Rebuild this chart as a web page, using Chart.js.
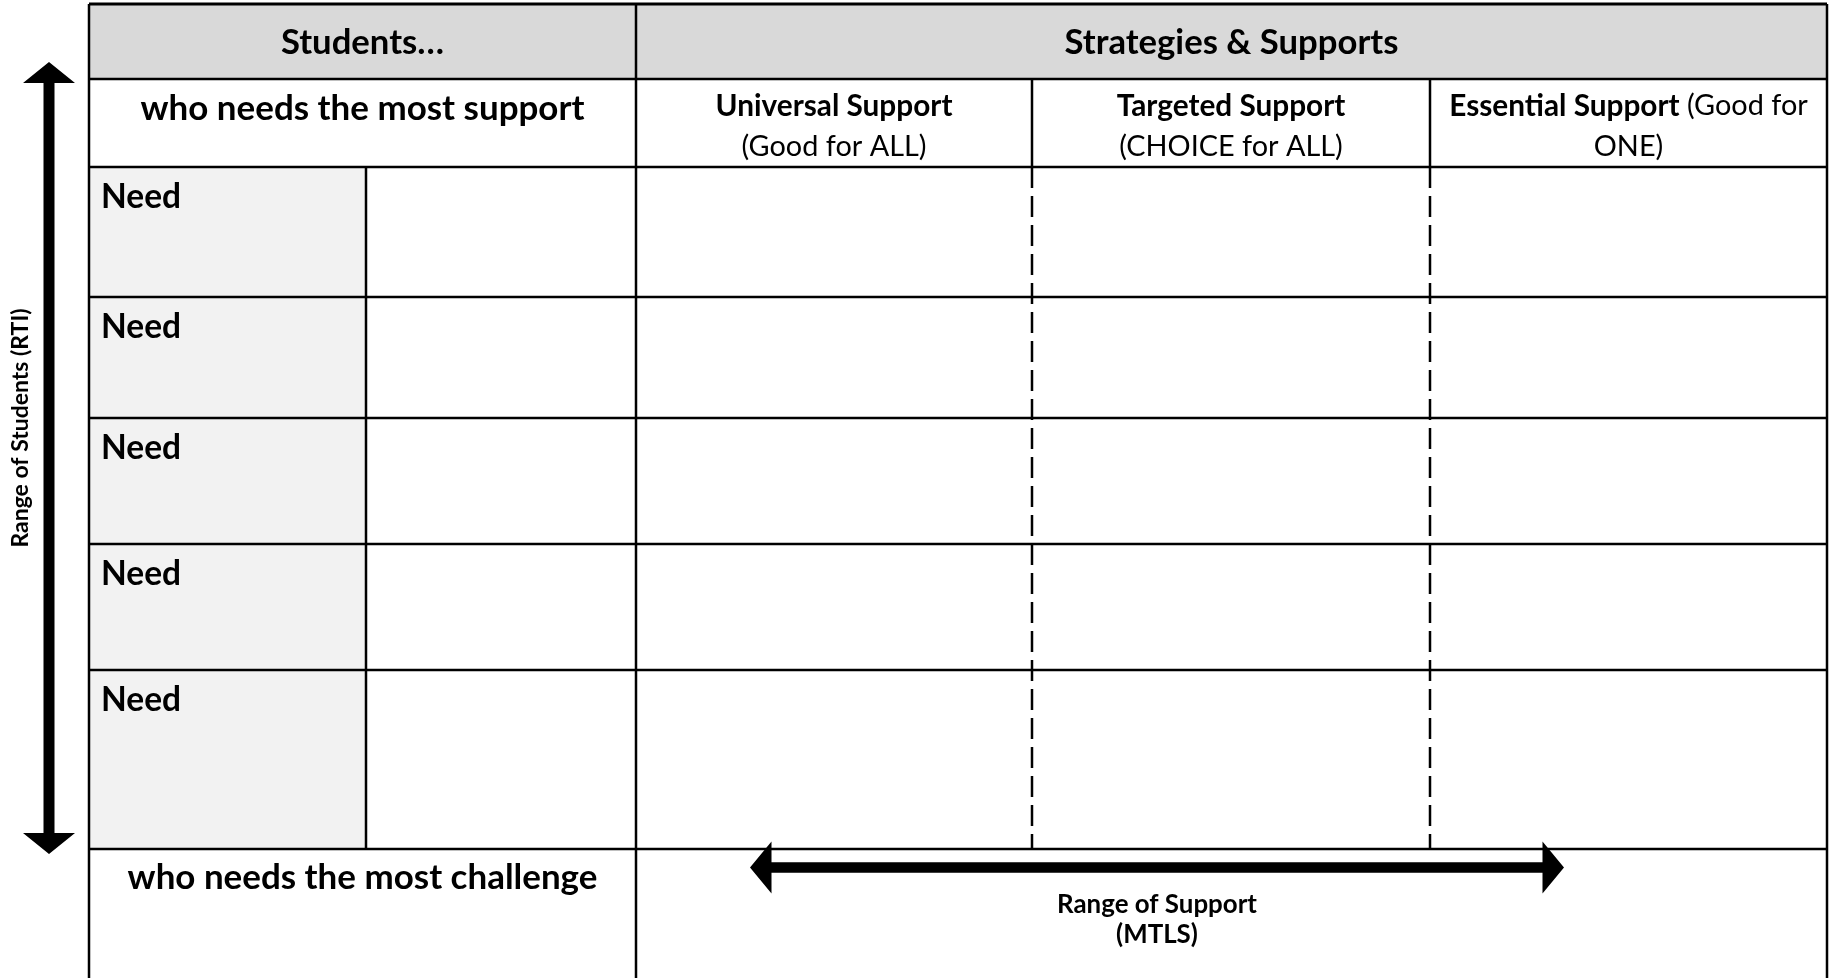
<!DOCTYPE html>
<html>
<head>
<meta charset="utf-8">
<title>Students &amp; Supports</title>
<style>
  html, body { margin: 0; padding: 0; background: #fff; }
  canvas { display: block; }
</style>
</head>
<body>
<canvas id="grid" width="1829" height="978" style="width:1829px;height:978px"></canvas>
<script src="https://cdn.jsdelivr.net/npm/chart.js@4.4.1/dist/chart.umd.min.js"></script>
<script>
// ---- content ----
const groupHeaders = ['Students…', 'Strategies & Supports'];
const studentRange = ['who needs the most support', 'who needs the most challenge'];
const tierNames = ['Universal Support', 'Targeted Support', 'Essential Support'];
const tierNotes = ['(Good for ALL)', '(CHOICE for ALL)', '(Good for ONE)'];
const needLabels = ['Need', 'Need', 'Need', 'Need', 'Need'];
const rtiLabel = 'Range of Students (RTI)';
const mtlsLabel = ['Range of Support', '(MTLS)'];

// ---- layout (units of the x / y scales) ----
const W = 1829, H = 978;
const colX = [89, 366, 636, 1032, 1430, 1827];
const rowY = [4, 79, 167, 297, 418, 544, 670, 849, 978];
const tierInline = [false, false, true];
const vArrow = { x: 49, top: 62, bottom: 854, head: 21, half: 26, shaft: 5.5 };
const hArrow = { y: 867.5, left: 750, right: 1564, head: 21.5, half: 26, shaft: 5.2 };

const FONT = 'Lato, "Open Sans", sans-serif';
// each style is sized so that one of its strings takes the width it has in the original
const textStyles = {
  head:     { bold: true,  ref: groupHeaders[1], width: 334 },
  range:    { bold: true,  ref: studentRange[1], width: 470 },
  need:     { bold: true,  ref: needLabels[0],   width: 80 },
  tierName: { bold: true,  ref: tierNames[0],    width: 237 },
  tierNote: { bold: false, ref: tierNotes[0],    width: 185 },
  mtls:     { bold: true,  ref: mtlsLabel[0],    width: 200 },
  rti:      { bold: true,  ref: rtiLabel,        width: 239 }
};

const fonts = {};
(function () {
  const c = document.createElement('canvas').getContext('2d');
  for (const k in textStyles) {
    const s = textStyles[k];
    const weight = s.bold ? '700' : '400';
    c.font = weight + ' 100px ' + FONT;
    const size = 100 * s.width / c.measureText(s.ref).width;
    fonts[k] = weight + ' ' + size.toFixed(2) + 'px ' + FONT;
  }
})();

// ---- grid lines as datasets ----
function seg(x0, y0, x1, y1, width, dash) {
  return {
    data: [{ x: x0, y: y0 }, { x: x1, y: y1 }],
    showLine: true,
    borderColor: '#000',
    borderWidth: width,
    borderDash: dash || [],
    borderCapStyle: 'butt',
    pointRadius: 0,
    pointHoverRadius: 0,
    fill: false,
    clip: false
  };
}

const lines = [];
const left = colX[0], right = colX[colX.length - 1];
const needTop = rowY[2], needBottom = rowY[7];
lines.push(seg(left, rowY[0], right, rowY[0], 3));
for (let i = 1; i <= 7; i++) lines.push(seg(left, rowY[i], right, rowY[i], 2.5));
lines.push(seg(left, rowY[0], left, H, 2.5));
lines.push(seg(right, rowY[0], right, H, 2.5));
lines.push(seg(colX[2], rowY[0], colX[2], H, 2.5));
lines.push(seg(colX[1], needTop, colX[1], needBottom, 2.5));
[colX[3], colX[4]].forEach(cx => {
  lines.push(seg(cx, rowY[1], cx, needTop, 2.5));
  lines.push(seg(cx, needTop, cx, needBottom, 2.5, [21, 8]));
});

// ---- plugins ----
const cellFills = {
  id: 'cellFills',
  beforeDatasetsDraw(chart) {
    const { ctx, scales: { x, y } } = chart;
    const box = (x0, y0, x1, y1, color) => {
      ctx.fillStyle = color;
      const px = x.getPixelForValue(x0), py = y.getPixelForValue(y0);
      ctx.fillRect(px, py, x.getPixelForValue(x1) - px, y.getPixelForValue(y1) - py);
    };
    ctx.save();
    box(left, rowY[0], right, rowY[1], '#d9d9d9');
    box(left, needTop, colX[1], needBottom, '#f2f2f2');
    ctx.restore();
  }
};

const arrows = {
  id: 'arrows',
  afterDatasetsDraw(chart) {
    const { ctx, scales: { x, y } } = chart;
    const poly = pts => {
      ctx.beginPath();
      pts.forEach(([px, py], i) => {
        const X = x.getPixelForValue(px), Y = y.getPixelForValue(py);
        i ? ctx.lineTo(X, Y) : ctx.moveTo(X, Y);
      });
      ctx.closePath();
      ctx.fill();
    };
    ctx.save();
    ctx.fillStyle = '#000';
    const v = vArrow;
    poly([
      [v.x, v.top], [v.x + v.half, v.top + v.head], [v.x + v.shaft, v.top + v.head],
      [v.x + v.shaft, v.bottom - v.head], [v.x + v.half, v.bottom - v.head], [v.x, v.bottom],
      [v.x - v.half, v.bottom - v.head], [v.x - v.shaft, v.bottom - v.head],
      [v.x - v.shaft, v.top + v.head], [v.x - v.half, v.top + v.head]
    ]);
    const h = hArrow;
    poly([
      [h.left, h.y], [h.left + h.head, h.y - h.half], [h.left + h.head, h.y - h.shaft],
      [h.right - h.head, h.y - h.shaft], [h.right - h.head, h.y - h.half], [h.right, h.y],
      [h.right - h.head, h.y + h.half], [h.right - h.head, h.y + h.shaft],
      [h.left + h.head, h.y + h.shaft], [h.left + h.head, h.y + h.half]
    ]);
    ctx.restore();
  }
};

function layoutRuns(ctx, runs, maxW, breakRuns) {
  const out = [];
  let cur = [], curW = 0;
  runs.forEach((run, ri) => {
    if (breakRuns && ri > 0 && cur.length) { out.push({ items: cur, w: curW }); cur = []; curW = 0; }
    ctx.font = fonts[run.style];
    const sp = ctx.measureText(' ').width;
    run.text.split(' ').forEach(word => {
      const ww = ctx.measureText(word).width;
      if (cur.length && curW + sp + ww > maxW) { out.push({ items: cur, w: curW }); cur = []; curW = 0; }
      const gap = cur.length ? sp : 0;
      cur.push({ word, style: run.style, gap, w: ww });
      curW += gap + ww;
    });
  });
  if (cur.length) out.push({ items: cur, w: curW });
  return out;
}

const labels = {
  id: 'labels',
  afterDraw(chart) {
    const { ctx, scales: { x, y } } = chart;
    const X = v => x.getPixelForValue(v), Y = v => y.getPixelForValue(v);
    const text = (str, style, cx, cy, align) => {
      ctx.font = fonts[style];
      ctx.textAlign = align || 'center';
      ctx.fillText(str, X(cx), Y(cy));
    };
    ctx.save();
    ctx.fillStyle = '#000';
    ctx.textBaseline = 'middle';

    const studentsMid = (left + colX[2]) / 2;
    text(groupHeaders[0], 'head', studentsMid, (rowY[0] + rowY[1]) / 2 + 1);
    text(groupHeaders[1], 'head', (colX[2] + right) / 2, (rowY[0] + rowY[1]) / 2 + 1);
    text(studentRange[0], 'range', studentsMid, rowY[1] + 30);
    text(studentRange[1], 'range', studentsMid, rowY[7] + 29);

    tierNames.forEach((name, i) => {
      const x0 = colX[2 + i], x1 = colX[3 + i];
      const rows = layoutRuns(ctx, [{ text: name, style: 'tierName' }, { text: tierNotes[i], style: 'tierNote' }],
        (X(x1) - X(x0)) - 16, !tierInline[i]);
      rows.forEach((row, r) => {
        let px = X((x0 + x1) / 2) - row.w / 2;
        const py = Y(rowY[1] + 27 + r * 41);
        ctx.textAlign = 'left';
        row.items.forEach(it => {
          px += it.gap;
          ctx.font = fonts[it.style];
          ctx.fillText(it.word, px, py);
          px += it.w;
        });
      });
    });

    needLabels.forEach((lab, i) => text(lab, 'need', left + 12, rowY[2 + i] + 30, 'left'));

    const mid = (hArrow.left + hArrow.right) / 2;
    text(mtlsLabel[0], 'mtls', mid, rowY[7] + 56);
    text(mtlsLabel[1], 'mtls', mid, rowY[7] + 86);

    ctx.translate(X(21), Y(428));
    ctx.rotate(-Math.PI / 2);
    ctx.font = fonts.rti;
    ctx.textAlign = 'center';
    ctx.fillText(rtiLabel, 0, 0);
    ctx.restore();
  }
};

new Chart(document.getElementById('grid'), {
  type: 'scatter',
  data: { datasets: lines },
  options: {
    responsive: false,
    animation: false,
    devicePixelRatio: 1,
    layout: { padding: 0 },
    events: [],
    plugins: { legend: { display: false }, tooltip: { enabled: false } },
    scales: {
      x: { type: 'linear', min: 0, max: W, display: false },
      y: { type: 'linear', min: 0, max: H, reverse: true, display: false }
    }
  },
  plugins: [cellFills, arrows, labels]
});
</script>
</body>
</html>
